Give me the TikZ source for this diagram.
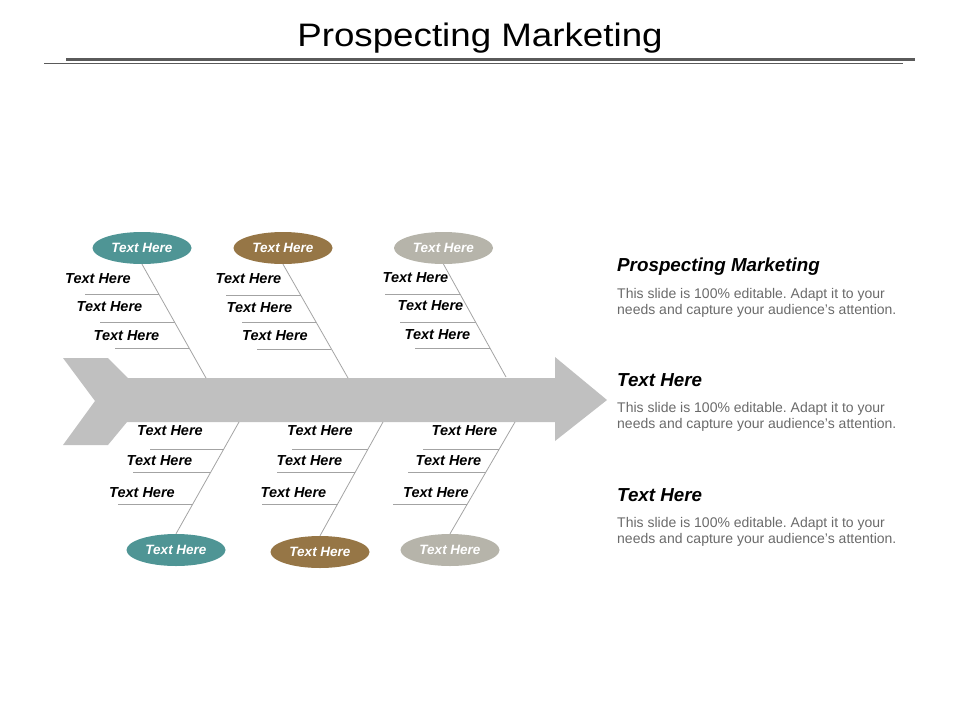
\documentclass[tikz,border=0pt]{standalone}
\usepackage{fontspec}
\setmainfont{Liberation Sans}
\newfontfamily\titlefont{Liberation Sans}[FakeStretch=1.13]
\usetikzlibrary{shapes.geometric,calc}
\definecolor{cteal}{HTML}{4F9595}
\definecolor{cbrown}{HTML}{967646}
\definecolor{cgrey}{HTML}{B6B4AA}
\definecolor{carrow}{HTML}{C0C0C0}
\definecolor{cline}{HTML}{A3A3A3}
\definecolor{cbody}{HTML}{6A6A6A}
\definecolor{crule}{HTML}{5A5A5A}
\frenchspacing
\tikzset{
  oval/.style={ellipse, minimum width=99pt, minimum height=32pt, inner sep=0pt,
    text=white, font=\fontsize{13.5}{15}\selectfont\bfseries\itshape},
  lab/.style={inner sep=0pt, font=\fontsize{14.5}{16}\selectfont\bfseries\itshape},
  bone/.style={draw=cline, line width=0.8pt},
  tick/.style={draw=cline, line width=0.9pt},
  head/.style={anchor=base west, inner sep=0pt, font=\fontsize{18.8}{21}\selectfont\bfseries\itshape},
  body/.style={anchor=base west, inner sep=0pt, text=cbody, align=left,
    font=\fontsize{14}{15.6}\selectfont}
}
\newcommand\ticks[5]{% top x, top y, bottom x, bottom y, list of y/xleft
  \foreach \yy/\xl in {#5}{%
    \pgfmathsetmacro\xe{#1+(\yy-#2)*(#3-#1)/(#4-#2)}%
    \draw[tick] (\xl,\yy) -- (\xe,\yy);
  }%
}
\begin{document}
\begin{tikzpicture}[x=1pt,y=-1pt]
\useasboundingbox (0,0) rectangle (960,720);
% title
\node[anchor=base, inner sep=0pt, font=\titlefont\fontsize{32.5}{36}\selectfont] (title) at (480,46) {Prospecting Marketing};
\draw[crule, line width=2.2pt] (66,59.5) -- (915,59.5);
\draw[crule, line width=1.1pt] (44,63.5) -- (903,63.5);
% arrow
\fill[carrow] (63,358) -- (108,358) -- (128,378) -- (555,378) -- (555,357) -- (607,400)
  -- (555,441) -- (555,422) -- (127,422) -- (108,445) -- (63,445) -- (95,401) -- cycle;
% ellipses
\node[oval, fill=cteal]  (t1) at (142,248) {Text Here};
\node[oval, fill=cbrown] (t2) at (283,248) {Text Here};
\node[oval, fill=cgrey]  (t3) at (443.5,248) {Text Here};
\node[oval, fill=cteal]  (u1) at (176,550) {Text Here};
\node[oval, fill=cbrown] (u2) at (320,552) {Text Here};
\node[oval, fill=cgrey]  (u3) at (450,550) {Text Here};
% bone ends on the shaft
\coordinate (s1) at (206,378);
\coordinate (s2) at (348,378);
\coordinate (s3) at (506,377);
\coordinate (r1) at (239,422);
\coordinate (r2) at (383,422);
\coordinate (r3) at (515,422);
\draw[bone] (t1.south) -- (s1);
\draw[bone] (t2.south) -- (s2);
\draw[bone] (t3.south) -- (s3);
\draw[bone] (r1) -- (u1.north);
\draw[bone] (r2) -- (u2.north);
\draw[bone] (r3) -- (u3.north);
% ticks
\ticks{142}{264}{206}{378}{294/85,322/100,348/115}
\ticks{283}{264}{348}{378}{295/226,322/242,349/257}
\ticks{443.5}{264}{506}{377}{294/385,322/400,348/415}
\ticks{239}{422}{176}{534}{449/150,472/133,504/118}
\ticks{383}{422}{320}{536}{449/292,472/277,504/262}
\ticks{515}{422}{450}{534}{449/423,472/408,504/393}
% labels top
\node[lab] (a1) at (98,279) {Text Here};
\node[lab] (a2) at (109.5,307) {Text Here};
\node[lab] (a3) at (126.5,336) {Text Here};
\node[lab] (b1) at (248.5,279) {Text Here};
\node[lab] (b2) at (259.5,308) {Text Here};
\node[lab] (b3) at (275,336) {Text Here};
\node[lab] (c1) at (415.5,278) {Text Here};
\node[lab] (c2) at (430.5,306) {Text Here};
\node[lab] (c3) at (437.5,335) {Text Here};
% labels bottom
\node[lab] (d1) at (170,431) {Text Here};
\node[lab] (d2) at (159.5,461) {Text Here};
\node[lab] (d3) at (142,493) {Text Here};
\node[lab] (e1) at (320,431) {Text Here};
\node[lab] (e2) at (309.5,461) {Text Here};
\node[lab] (e3) at (293.5,493) {Text Here};
\node[lab] (f1) at (464.5,431) {Text Here};
\node[lab] (f2) at (448.5,461) {Text Here};
\node[lab] (f3) at (436,493) {Text Here};
% right column
\node[head] (h1) at (617,271) {Prospecting Marketing};
\node[body] (p1) at (617,314) {This slide is 100\% editable. Adapt it to your\\needs and capture your audience's attention.};
\node[head] (h2) at (617,386) {Text Here};
\node[body] (p2) at (617,428) {This slide is 100\% editable. Adapt it to your\\needs and capture your audience's attention.};
\node[head] (h3) at (617,501) {Text Here};
\node[body] (p3) at (617,543) {This slide is 100\% editable. Adapt it to your\\needs and capture your audience's attention.};
\end{tikzpicture}
\end{document}
